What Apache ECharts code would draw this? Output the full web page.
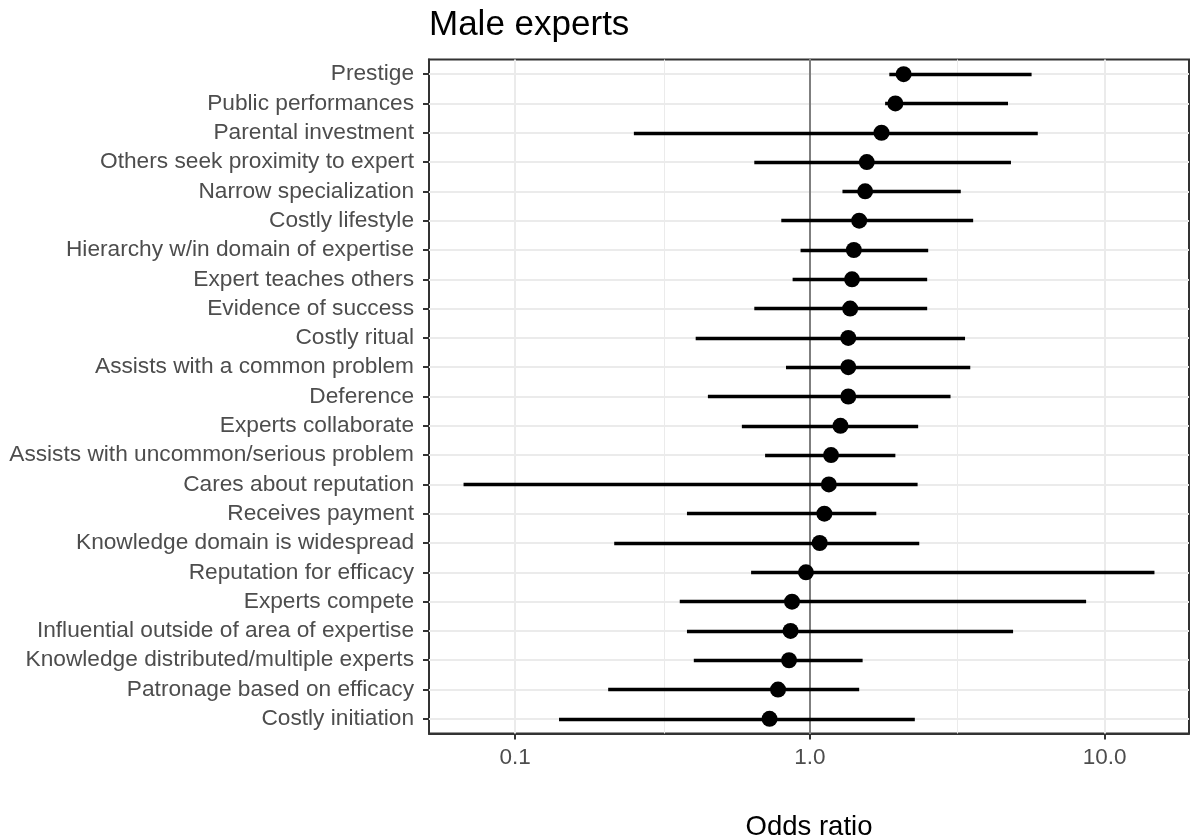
<!DOCTYPE html>
<html>
<head>
<meta charset="utf-8">
<script src="https://cdn.jsdelivr.net/npm/echarts@6/dist/echarts.min.js"></script>
<style>
  html, body { margin: 0; padding: 0; background: #ffffff; }
  #chart { width: 1193px; height: 839px; }
</style>
</head>
<body>
<div id="chart"></div>
<script>
// Predictors, listed top to bottom
const categories = [
  'Prestige', 'Public performances', 'Parental investment',
  'Others seek proximity to expert', 'Narrow specialization', 'Costly lifestyle',
  'Hierarchy w/in domain of expertise', 'Expert teaches others', 'Evidence of success',
  'Costly ritual', 'Assists with a common problem', 'Deference', 'Experts collaborate',
  'Assists with uncommon/serious problem', 'Cares about reputation', 'Receives payment',
  'Knowledge domain is widespread', 'Reputation for efficacy', 'Experts compete',
  'Influential outside of area of expertise', 'Knowledge distributed/multiple experts',
  'Patronage based on efficacy', 'Costly initiation'
];
// Odds ratio point estimates and interval bounds
const estimate = [2.08, 1.95, 1.75, 1.56, 1.54, 1.47, 1.41, 1.39, 1.37, 1.35, 1.35, 1.35,
  1.27, 1.18, 1.16, 1.12, 1.08, 0.97, 0.87, 0.86, 0.85, 0.78, 0.73];
const lower = [1.86, 1.80, 0.253, 0.648, 1.29, 0.80, 0.93, 0.874, 0.648, 0.41, 0.83, 0.451,
  0.588, 0.705, 0.0669, 0.383, 0.217, 0.632, 0.362, 0.383, 0.404, 0.207, 0.141];
const upper = [5.65, 4.70, 5.93, 4.81, 3.25, 3.58, 2.52, 2.50, 2.50, 3.36, 3.50, 3.00,
  2.33, 1.95, 2.32, 1.68, 2.35, 14.75, 8.65, 4.89, 1.51, 1.47, 2.27];
// Axis breaks on the odds-ratio scale
const xBreaks = [0.1, 1, 10];
const xMinorBreaks = [0.3162, 3.162];
const refValue = 1;

const FONT = '"Liberation Sans", Arial, Helvetica, sans-serif';

// log-scale limits padded by 5% of the data span on each side
const logLo = Math.log10(Math.min(...lower));
const logHi = Math.log10(Math.max(...upper));
const pad = (logHi - logLo) * 0.05;
const xMin = Math.pow(10, logLo - pad);
const xMax = Math.pow(10, logHi + pad);

const isPow10 = v => Math.abs(Math.log10(v) - Math.round(Math.log10(v))) < 1e-6;

const chart = echarts.init(document.getElementById('chart'), null, { renderer: 'canvas' });

const gridLine = (w) => ({ color: '#EBEBEB', width: w, type: 'solid' });

chart.setOption({
  animation: false,
  backgroundColor: '#ffffff',
  textStyle: { fontFamily: FONT },
  title: {
    text: 'Male experts',
    left: 429,
    top: 8,
    padding: 0,
    textStyle: { fontFamily: FONT, fontSize: 35, fontWeight: 'normal', color: '#000000' }
  },
  grid: {
    left: 429, right: 4, top: 59.5, bottom: 105.5,
    show: true, borderColor: '#333333', borderWidth: 2, backgroundColor: 'transparent',
    containLabel: false,
    outerBoundsMode: 'none'
  },
  xAxis: {
    type: 'log',
    logBase: 10,
    min: xMin,
    max: xMax,
    name: 'Odds ratio',
    nameLocation: 'middle',
    nameGap: 80,
    nameTextStyle: { fontFamily: FONT, fontSize: 27.5, color: '#000000' },
    axisLine: { show: true, lineStyle: { color: '#333333', width: 2 } },
    axisTick: { show: true, length: 6, lineStyle: { color: '#333333', width: 2 } },
    axisLabel: {
      fontFamily: FONT, fontSize: 22.5, color: '#4D4D4D', margin: 13,
      showMinLabel: false, showMaxLabel: false,
      formatter: v => (isPow10(v) ? v.toFixed(1) : '')
    },
    splitLine: { show: false },
    minorSplitLine: { show: false }
  },
  yAxis: {
    type: 'category',
    data: categories,
    inverse: true,
    axisLine: { show: true, lineStyle: { color: '#333333', width: 2 } },
    axisTick: { show: true, alignWithLabel: true, length: 6, lineStyle: { color: '#333333', width: 2 } },
    axisLabel: { fontFamily: FONT, fontSize: 22.7, color: '#4D4D4D', margin: 15, interval: 0 },
    splitLine: { show: false }
  },
  series: [
    {
      // panel gridlines, kept beneath every mark
      type: 'line', data: [], silent: true, z: 1,
      markLine: {
        z: 1,
        silent: true, symbol: ['none', 'none'], animation: false,
        label: { show: false },
        emphasis: { disabled: true },
        data: [
          ...categories.map((c, i) => ({ yAxis: i, lineStyle: gridLine(2) })),
          ...xBreaks.map(v => ({ xAxis: v, lineStyle: gridLine(2) })),
          ...xMinorBreaks.map(v => ({ xAxis: v, lineStyle: gridLine(1) }))
        ]
      }
    },
    {
      // reference line at odds ratio 1
      type: 'line', data: [], silent: true, z: 2,
      markLine: {
        z: 2,
        silent: true, symbol: ['none', 'none'], animation: false,
        label: { show: false },
        emphasis: { disabled: true },
        data: [{ xAxis: refValue, lineStyle: { color: '#7F7F7F', width: 2, type: 'solid' } }]
      }
    },
    {
      // interval bars from lower to upper bound
      type: 'lines',
      coordinateSystem: 'cartesian2d',
      z: 3, silent: true,
      polyline: false,
      lineStyle: { color: '#000000', width: 3.4, opacity: 1, curveness: 0, cap: 'butt' },
      data: categories.map((c, i) => ({ coords: [[lower[i], i], [upper[i], i]] }))
    },
    {
      // point estimates
      type: 'scatter', z: 4, silent: true,
      data: categories.map((c, i) => [estimate[i], i]),
      symbol: 'circle',
      symbolSize: 16,
      itemStyle: { color: '#000000', opacity: 1 }
    }
  ]
});
</script>
</body>
</html>
